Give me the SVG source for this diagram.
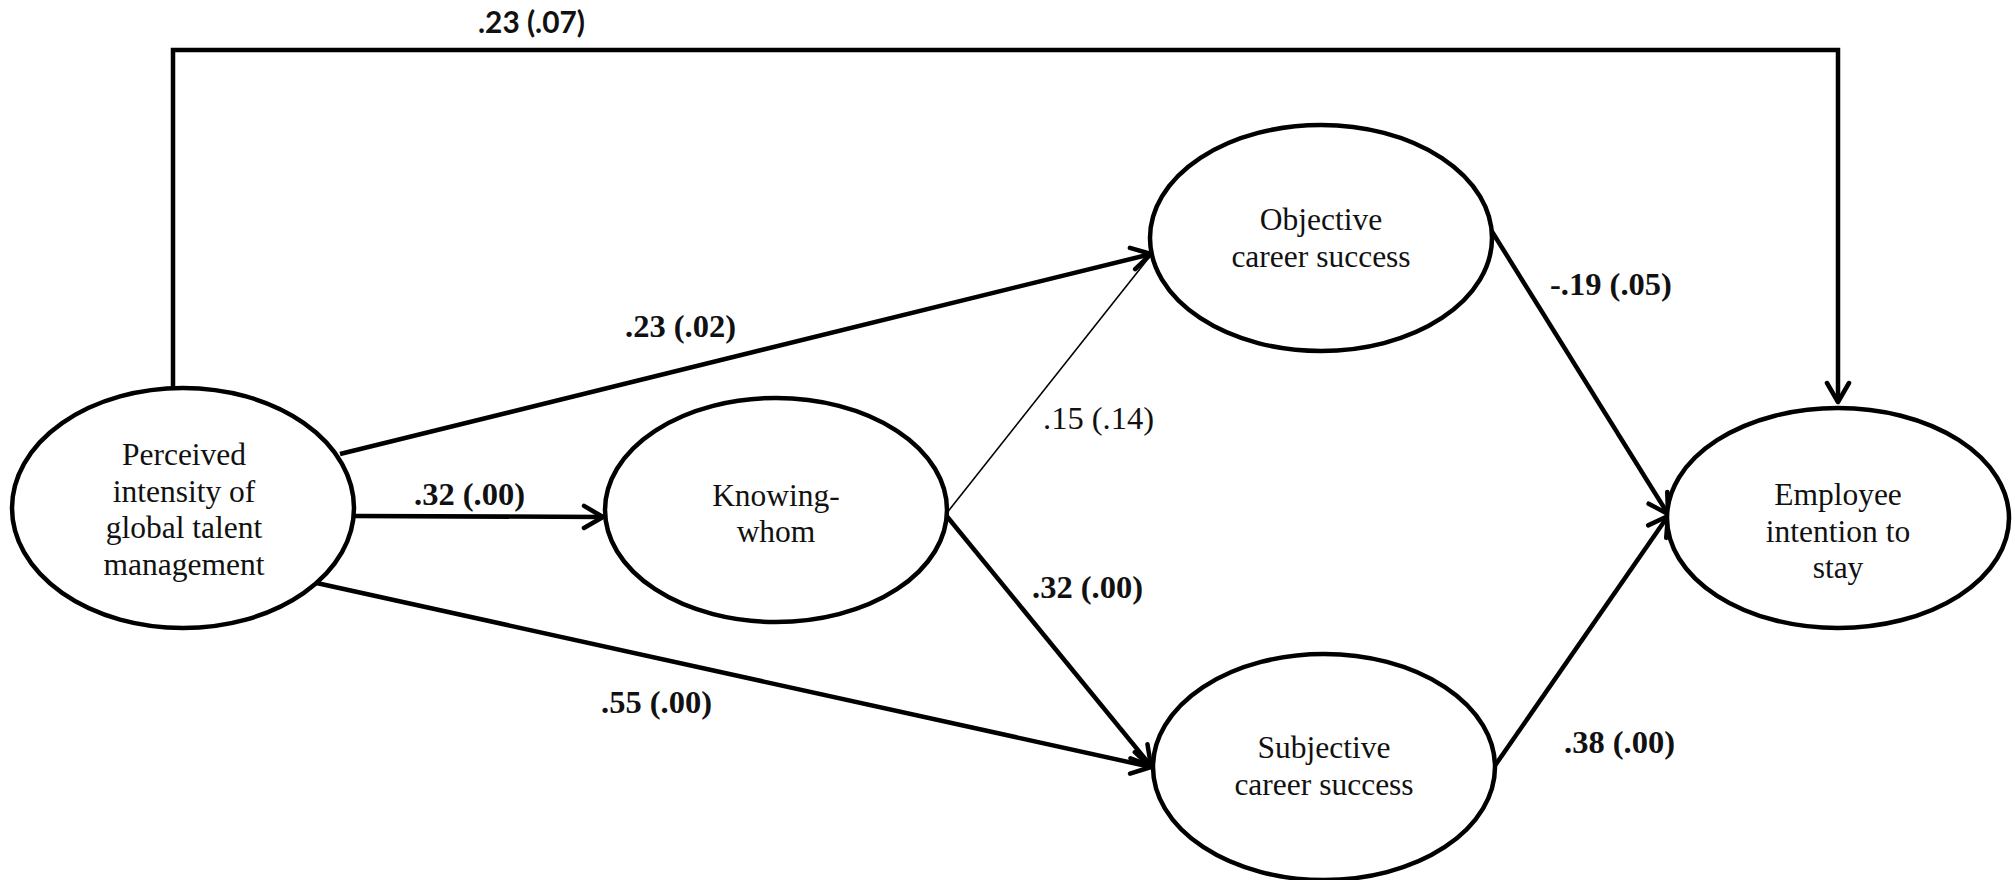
<svg xmlns="http://www.w3.org/2000/svg" width="2015" height="880" viewBox="0 0 2015 880">
<style>
.node ellipse{fill:#fff;stroke:#000;stroke-width:4.5}
.node text{font-family:"Liberation Serif","Times New Roman",serif;font-size:31.5px;fill:#111;text-anchor:middle}
.edge{fill:none;stroke:#000;stroke-width:4.5;stroke-linejoin:miter}
.thin{fill:none;stroke:#000;stroke-width:1.6}
.lbl{font-family:"Liberation Serif","Times New Roman",serif;font-size:32.5px;font-weight:bold;fill:#111}
.lblr{font-family:"Liberation Serif","Times New Roman",serif;font-size:32.5px;fill:#111}
.lbls{font-family:"Lato","Liberation Sans",sans-serif;font-size:30px;font-weight:bold;fill:#111}
</style>
<defs>
<marker id="ah" markerUnits="userSpaceOnUse" markerWidth="30" markerHeight="30" refX="22" refY="13" orient="auto" viewBox="0 0 30 26">
<path d="M3,2 L22,13 L3,24" fill="none" stroke="#000" stroke-width="4.5" stroke-linejoin="round" stroke-linecap="round"/>
</marker>
</defs>
<g id="connectors">
<path class="edge" d="M173,390 L173,50 L1838,50 L1838,402" marker-end="url(#ah)"/>
<line class="edge" x1="340" y1="454" x2="1151" y2="254" marker-end="url(#ah)"/>
<line class="edge" x1="355" y1="516" x2="603" y2="517" marker-end="url(#ah)"/>
<line class="edge" x1="312" y1="582" x2="1151" y2="767" marker-end="url(#ah)"/>
<line class="thin" x1="946" y1="514" x2="1151" y2="255"/>
<line class="edge" x1="945" y1="514" x2="1151" y2="766" marker-end="url(#ah)"/>
<line class="edge" x1="1491" y1="230" x2="1668" y2="514" marker-end="url(#ah)"/>
<line class="edge" x1="1494" y1="767" x2="1668" y2="516" marker-end="url(#ah)"/>
</g>
<g id="labels">
<text class="lbls" x="478" y="33" textLength="107" lengthAdjust="spacingAndGlyphs">.23 (.07)</text>
<text class="lbl" x="625" y="337">.23 (.02)</text>
<text class="lbl" x="414" y="505">.32 (.00)</text>
<text class="lblr" x="1043" y="429">.15 (.14)</text>
<text class="lbl" x="1032" y="598">.32 (.00)</text>
<text class="lbl" x="601" y="713">.55 (.00)</text>
<text class="lbl" x="1550" y="295">-.19 (.05)</text>
<text class="lbl" x="1564" y="753">.38 (.00)</text>
</g>
<g id="node-perceived" class="node">
<ellipse cx="183" cy="508" rx="171" ry="120"/>
<text x="184" y="465">Perceived</text>
<text x="184" y="502">intensity of</text>
<text x="184" y="538">global talent</text>
<text x="184" y="575">management</text>
</g>
<g id="node-knowing" class="node">
<ellipse cx="776" cy="510" rx="171" ry="112"/>
<text x="776" y="506">Knowing-</text>
<text x="776" y="542">whom</text>
</g>
<g id="node-objective" class="node">
<ellipse cx="1321" cy="238" rx="171" ry="113"/>
<text x="1321" y="230">Objective</text>
<text x="1321" y="267">career success</text>
</g>
<g id="node-subjective" class="node">
<ellipse cx="1324" cy="767" rx="171" ry="113"/>
<text x="1324" y="758">Subjective</text>
<text x="1324" y="795">career success</text>
</g>
<g id="node-employee" class="node">
<ellipse cx="1838" cy="518" rx="171" ry="110"/>
<text x="1838" y="505">Employee</text>
<text x="1838" y="542">intention to</text>
<text x="1838" y="578">stay</text>
</g>
</svg>
